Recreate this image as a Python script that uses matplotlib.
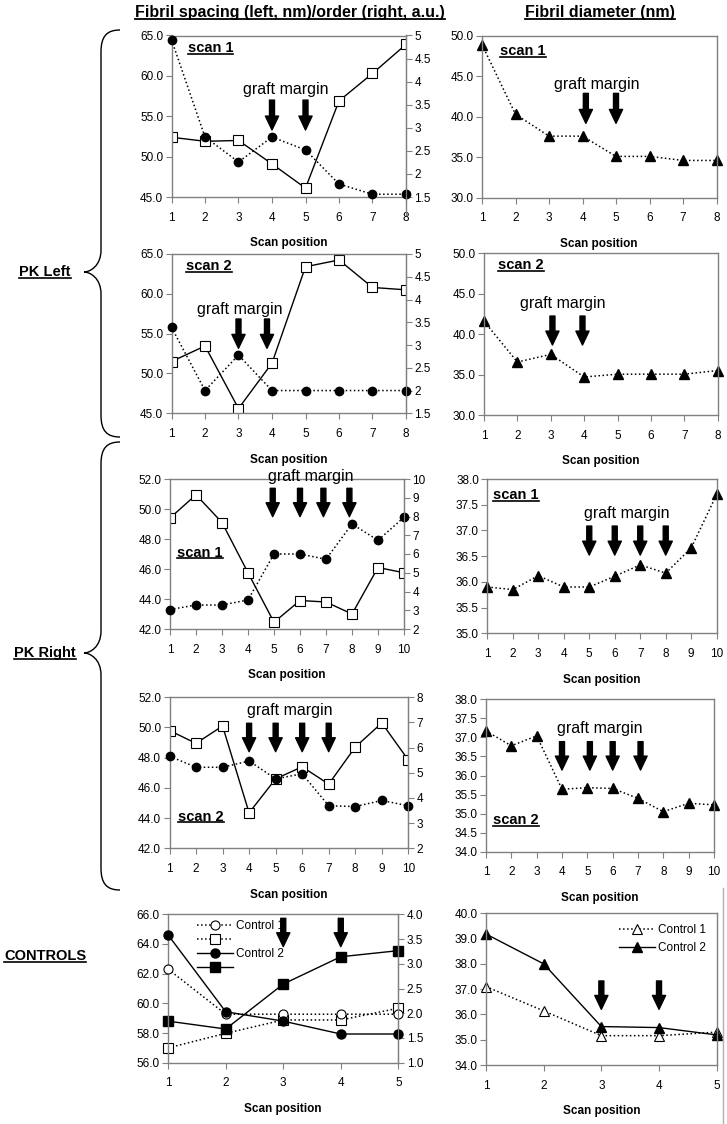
import matplotlib
matplotlib.use('Agg')
import matplotlib.pyplot as plt
from matplotlib.path import Path
from matplotlib.patches import PathPatch
from matplotlib.lines import Line2D

plt.rcParams['font.family'] = ['Liberation Sans', 'DejaVu Sans']

# ---- data ----
pos8 = [1, 2, 3, 4, 5, 6, 7, 8]
pos10 = [1, 2, 3, 4, 5, 6, 7, 8, 9, 10]
pos5 = [1, 2, 3, 4, 5]

# PK Left, scan 1
pkl1_spacing = [52.4, 51.9, 52.0, 49.1, 46.1, 56.9, 60.3, 63.9]
pkl1_order = [4.91, 2.80, 2.26, 2.80, 2.52, 1.78, 1.56, 1.56]
pkl1_diam = [48.9, 40.3, 37.6, 37.6, 35.1, 35.1, 34.6, 34.6]

# PK Left, scan 2
pkl2_spacing = [51.5, 53.45, 45.6, 51.3, 63.4, 64.25, 60.8, 60.5]
pkl2_order = [3.39, 2.0, 2.78, 2.0, 2.0, 2.0, 2.0, 2.0]
pkl2_diam = [41.6, 36.55, 37.5, 34.7, 35.05, 35.05, 35.05, 35.5]

# PK Right, scan 1
pkr1_spacing = [49.4, 50.95, 49.1, 45.75, 42.45, 43.9, 43.8, 43.0, 46.1, 45.75]
pkr1_order = [3.04, 3.28, 3.28, 3.55, 6.0, 6.0, 5.72, 7.6, 6.73, 7.96]
pkr1_diam = [35.9, 35.85, 36.12, 35.9, 35.9, 36.11, 36.33, 36.17, 36.66, 37.7]

# PK Right, scan 2
pkr2_spacing = [49.8, 48.95, 50.1, 44.35, 46.6, 47.4, 46.25, 48.7, 50.3, 47.85]
pkr2_order = [5.66, 5.22, 5.22, 5.47, 4.76, 4.96, 3.69, 3.66, 3.9, 3.69]
pkr2_diam = [37.17, 36.78, 37.04, 35.64, 35.68, 35.66, 35.4, 35.05, 35.27, 35.23]

# Controls
ctrl1_spacing = [57.0, 57.98, 58.88, 58.88, 59.67]
ctrl2_spacing = [58.8, 58.27, 61.3, 63.14, 63.55]
ctrl1_order = [2.89, 1.98, 1.98, 1.98, 1.98]
ctrl2_order = [3.58, 2.03, 1.84, 1.58, 1.58]
ctrl1_diam = [37.1, 36.14, 35.16, 35.16, 35.3]
ctrl2_diam = [39.18, 38.0, 35.52, 35.48, 35.19]

W, H = 727, 1124
GRAY = '#808080'
fig = plt.figure(figsize=(W / 100, H / 100), dpi=100)


def px_rect(x0, y0, x1, y1):
    return [x0 / W, 1 - y1 / H, (x1 - x0) / W, (y1 - y0) / H]


def fmt(vals, dec):
    out = []
    for v in vals:
        if dec is None:
            out.append(('%g' % v))
        else:
            out.append(('%.' + str(dec) + 'f') % v)
    return out


def style(ax, xs, ylim, yticks, dec=1):
    ax.set_xlim(xs[0], xs[-1])
    ax.set_xticks(xs)
    ax.set_ylim(*ylim)
    ax.set_yticks(yticks)
    ax.set_yticklabels(fmt(yticks, dec))
    for s in ax.spines.values():
        s.set_color(GRAY)
        s.set_linewidth(1)
    ax.tick_params(direction='out', length=4, color=GRAY, labelsize=8.5, pad=2)
    ax.tick_params(axis='x', pad=6.5)
    ax.set_xlabel('Scan position', fontsize=8.5, fontweight='bold', labelpad=10)


def add_right(ax, ylim, yticks, dec=None):
    ax2 = ax.twinx()
    ax2.set_ylim(*ylim)
    ax2.set_yticks(yticks)
    ax2.set_yticklabels(fmt(yticks, dec))
    for k in ['left', 'top', 'bottom']:
        ax2.spines[k].set_visible(False)
    ax2.spines['right'].set_color(GRAY)
    ax2.tick_params(direction='out', length=4, color=GRAY, labelsize=8.5, pad=2)
    return ax2


def arrows(ax, xs, ytop, ytip):
    tr = ax.get_xaxis_transform()
    for x in xs:
        ax.annotate('', xy=(x, ytip), xytext=(x, ytop), xycoords=tr, textcoords=tr,
                    annotation_clip=False,
                    arrowprops=dict(facecolor='black', edgecolor='black', width=3.6,
                                    headwidth=9.5, headlength=10, shrink=0))


def graft(ax, x, y):
    ax.text(x, y, 'graft margin', transform=ax.get_xaxis_transform(), ha='center',
            va='center', fontsize=11.5, clip_on=False)


underlined = []


def scan_label(ax, x, y, s):
    t = ax.text(x, y, s, transform=ax.transAxes, fontsize=10.5, fontweight='bold',
                ha='left', va='center')
    underlined.append((t, 1.2))


sq = dict(color='black', lw=1, ls='-', marker='s', ms=6.5, mfc='white', mec='black', mew=0.8)
dots = dict(color='black', lw=1.1, ls=':', marker='o', ms=6, mfc='black', mec='black')
tri = dict(color='black', lw=1.1, ls=':', marker='^', ms=6.5, mfc='black', mec='black')

# ---- PK Left scan 1 ----
ax = fig.add_axes(px_rect(171.5, 35.5, 406, 197))
style(ax, pos8, (45, 65), [45, 50, 55, 60, 65])
ax2 = add_right(ax, (1.5, 5), [1.5, 2, 2.5, 3, 3.5, 4, 4.5, 5])
ax.plot(pos8, pkl1_spacing, **sq)
ax2.plot(pos8, pkl1_order, clip_on=False, **dots)
arrows(ax2, [4, 5], 0.60, 0.415)
graft(ax2, 4.42, 0.663)
scan_label(ax2, 0.07, 0.92, 'scan 1')

ax = fig.add_axes(px_rect(482, 35.7, 716.5, 197.7))
style(ax, pos8, (30, 50), [30, 35, 40, 45, 50])
ax.plot(pos8, pkl1_diam, clip_on=False, **tri)
arrows(ax, [4.1, 5], 0.644, 0.459)
graft(ax, 4.43, 0.70)
scan_label(ax, 0.077, 0.905, 'scan 1')

# ---- PK Left scan 2 ----
ax = fig.add_axes(px_rect(171.5, 254, 406, 413.3))
style(ax, pos8, (45, 65), [45, 50, 55, 60, 65])
ax2 = add_right(ax, (1.5, 5), [1.5, 2, 2.5, 3, 3.5, 4, 4.5, 5])
ax.plot(pos8, pkl2_spacing, **sq)
ax2.plot(pos8, pkl2_order, clip_on=False, **dots)
arrows(ax2, [3, 3.85], 0.592, 0.408)
graft(ax2, 3.04, 0.653)
scan_label(ax2, 0.062, 0.925, 'scan 2')

ax = fig.add_axes(px_rect(484, 253.3, 717.7, 415))
style(ax, pos8, (30, 50), [30, 35, 40, 45, 50])
ax.plot(pos8, pkl2_diam, clip_on=False, **tri)
arrows(ax, [3.05, 3.95], 0.612, 0.433)
graft(ax, 3.35, 0.69)
scan_label(ax, 0.061, 0.928, 'scan 2')

# ---- PK Right scan 1 ----
ax = fig.add_axes(px_rect(170, 479, 404, 629))
style(ax, pos10, (42, 52), [42, 44, 46, 48, 50, 52])
ax2 = add_right(ax, (2, 10), [2, 3, 4, 5, 6, 7, 8, 9, 10])
ax.plot(pos10, pkr1_spacing, **sq)
ax2.plot(pos10, pkr1_order, clip_on=False, **dots)
arrows(ax2, [4.95, 6, 6.9, 7.9], 0.938, 0.749)
graft(ax2, 6.42, 1.015)
scan_label(ax2, 0.03, 0.509, 'scan 1')

ax = fig.add_axes(px_rect(487.3, 479, 716.7, 633.3))
style(ax, pos10, (35, 38), [35, 35.5, 36, 36.5, 37, 37.5, 38])
ax.plot(pos10, pkr1_diam, clip_on=False, **tri)
arrows(ax, [5, 6, 7, 8], 0.695, 0.507)
graft(ax, 6.47, 0.778)
scan_label(ax, 0.026, 0.896, 'scan 1')

# ---- PK Right scan 2 ----
ax = fig.add_axes(px_rect(169.5, 697.3, 408.3, 848.3))
style(ax, pos10, (42, 52), [42, 44, 46, 48, 50, 52])
ax2 = add_right(ax, (2, 8), [2, 3, 4, 5, 6, 7, 8])
ax.plot(pos10, pkr2_spacing, **sq)
ax2.plot(pos10, pkr2_order, clip_on=False, **dots)
arrows(ax2, [4, 5, 6, 7], 0.828, 0.64)
graft(ax2, 5.55, 0.911)
scan_label(ax2, 0.036, 0.21, 'scan 2')

ax = fig.add_axes(px_rect(486, 699.3, 714, 851.7))
style(ax, pos10, (34, 38), [34, 34.5, 35, 35.5, 36, 36.5, 37, 37.5, 38])
ax.plot(pos10, pkr2_diam, clip_on=False, **tri)
arrows(ax, [4, 5.1, 6, 7.1], 0.722, 0.536)
graft(ax, 5.5, 0.81)
scan_label(ax, 0.032, 0.208, 'scan 2')

# ---- Controls ----
ax = fig.add_axes(px_rect(168.2, 914.3, 398.3, 1062.7))
style(ax, pos5, (56, 66), [56, 58, 60, 62, 64, 66])
ax2 = add_right(ax, (1, 4), [1, 1.5, 2, 2.5, 3, 3.5, 4], dec=1)
h2 = ax.plot(pos5, ctrl1_spacing, color='black', lw=1.1, ls=':', marker='s', ms=6.5,
             mfc='white', mec='black', mew=0.8, clip_on=False)[0]
h4 = ax.plot(pos5, ctrl2_spacing, color='black', lw=1, ls='-', marker='s', ms=6.5,
             mfc='black', mec='black', clip_on=False)[0]
h1 = ax2.plot(pos5, ctrl1_order, color='black', lw=1.1, ls=':', marker='o', ms=6.5,
              mfc='white', mec='black', mew=0.8, clip_on=False)[0]
h3 = ax2.plot(pos5, ctrl2_order, color='black', lw=1, ls='-', marker='o', ms=6.5,
              mfc='black', mec='black', clip_on=False)[0]
arrows(ax2, [3, 4], 0.973, 0.782)
ax2.legend([h1, h2, h3, h4], ['Control 1', '', 'Control 2', ''], loc='upper left',
           bbox_to_anchor=(0.08, 1.03), frameon=False, fontsize=8.5, handlelength=3,
           labelspacing=0.15, handletextpad=0.3)

ax = fig.add_axes(px_rect(486, 913.3, 716.7, 1065))
style(ax, pos5, (34, 40), [34, 35, 36, 37, 38, 39, 40])
c1 = ax.plot(pos5, ctrl1_diam, color='black', lw=1.1, ls=':', marker='^', ms=6.5,
             mfc='white', mec='black', mew=0.8, clip_on=False)[0]
c2 = ax.plot(pos5, ctrl2_diam, color='black', lw=1, ls='-', marker='^', ms=6.5,
             mfc='black', mec='black', clip_on=False)[0]
arrows(ax, [3, 4], 0.554, 0.367)
ax.legend([c1, c2], ['Control 1', 'Control 2'], loc='upper right', bbox_to_anchor=(1.0, 1.0),
          frameon=False, fontsize=8.5, handlelength=3, labelspacing=0.5, handletextpad=0.3)

# ---- titles, row labels, braces ----
t = fig.text(290 / W, 1 - 13 / H, 'Fibril spacing (left, nm)/order (right, a.u.)',
             ha='center', va='center', fontsize=11.5, fontweight='bold')
underlined.append((t, 1.3))
t = fig.text(600 / W, 1 - 13 / H, 'Fibril diameter (nm)', ha='center', va='center',
             fontsize=11.5, fontweight='bold')
underlined.append((t, 1.3))

for label, y in [('PK Left', 272), ('PK Right', 653), ('CONTROLS', 956)]:
    t = fig.text(45 / W, 1 - y / H, label, ha='center', va='center', fontsize=10.5,
                 fontweight='bold')
    underlined.append((t, 1.2))


def brace(xl, xm, xr, yt, ym, yb, r=22):
    pts = [(xr, yt), (xm + 6, yt), (xm, yt + 6), (xm, yt + r),
           (xm, ym - r),
           (xm, ym - 6), (xl + 6, ym), (xl, ym),
           (xl + 6, ym), (xm, ym + 6), (xm, ym + r),
           (xm, yb - r),
           (xm, yb - 6), (xm + 6, yb), (xr, yb)]
    codes = [Path.MOVETO, Path.CURVE4, Path.CURVE4, Path.CURVE4, Path.LINETO,
             Path.CURVE4, Path.CURVE4, Path.CURVE4, Path.CURVE4, Path.CURVE4, Path.CURVE4,
             Path.LINETO, Path.CURVE4, Path.CURVE4, Path.CURVE4]
    pts = [(x / W, 1 - y / H) for x, y in pts]
    fig.patches.append(PathPatch(Path(pts, codes), transform=fig.transFigure, fill=False,
                                 edgecolor='black', lw=1))


brace(84, 101, 120, 30, 272, 437)
brace(84, 101, 120, 442, 653, 890)

# stray frame edges seen in the picture
fig.add_artist(Line2D([406 / W, 406 / W], [1 - 197 / H, 1 - 215 / H], color=GRAY, lw=1))
fig.add_artist(Line2D([723 / W, 723 / W], [1 - 888 / H, 0], color='#b0b0b0', lw=1))

# underlines
fig.canvas.draw()
rend = fig.canvas.get_renderer()
inv = fig.transFigure.inverted()
for t, lw in underlined:
    bb = t.get_window_extent(rend)
    y = bb.y0 + 0.1 * bb.height
    (x0, yy), (x1, _) = inv.transform([(bb.x0, y), (bb.x1, y)])
    fig.add_artist(Line2D([x0, x1], [yy, yy], color='black', lw=lw))

fig.savefig('out.png', dpi=100)
